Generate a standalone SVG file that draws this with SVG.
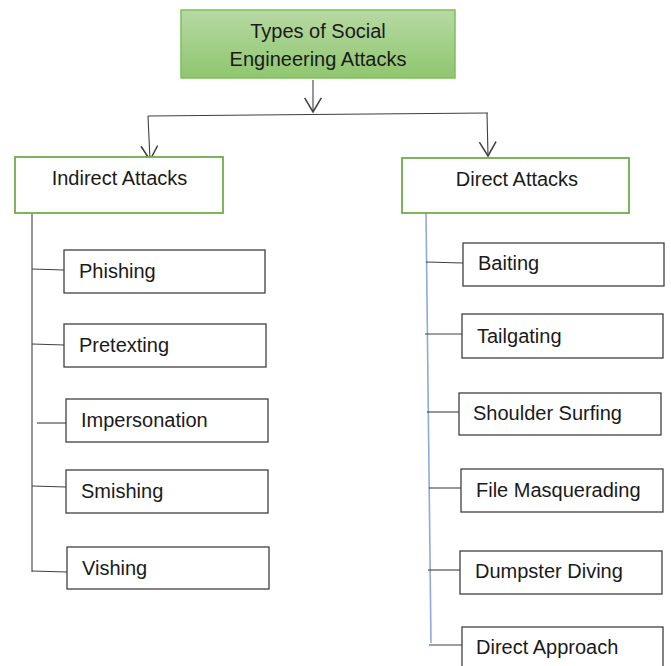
<svg xmlns="http://www.w3.org/2000/svg" width="671" height="666" viewBox="0 0 671 666">
<defs>
<linearGradient id="g" x1="0" y1="0" x2="0" y2="1">
<stop offset="0" stop-color="#b7d9a3"/>
<stop offset="1" stop-color="#8fc66f"/>
</linearGradient>
<marker id="arr" markerUnits="userSpaceOnUse" markerWidth="18" markerHeight="18" refX="12" refY="7" orient="auto" viewBox="0 0 14 14">
<path d="M1,0.5 L12,7 L1,13.5" fill="none" stroke="#404040" stroke-width="1.2"/>
</marker>
<style>
text{font-family:"Liberation Sans",Arial,sans-serif;font-size:20px;fill:#1a1a1a}
.box{fill:#fff;stroke:#404040;stroke-width:1.3}
.gbox{fill:#fff;stroke:#70ad47;stroke-width:1.8}
.c{stroke:#404040;stroke-width:1.1;fill:none}
.b{stroke:#8eaadb;stroke-width:1.6;fill:none}
.m{text-anchor:middle}
</style>
</defs>
<g id="connectors">
<line class="c" x1="313" y1="80" x2="313" y2="112" marker-end="url(#arr)"/>
<line class="c" x1="148" y1="116" x2="488" y2="113"/>
<line class="c" x1="148" y1="116" x2="150" y2="160" marker-end="url(#arr)"/>
<line class="c" x1="487" y1="113" x2="488" y2="156" marker-end="url(#arr)"/>
<line class="c" x1="32" y1="214" x2="32" y2="572"/>
<line class="c" x1="32" y1="269" x2="64" y2="270"/>
<line class="c" x1="32" y1="344" x2="64" y2="345"/>
<line class="c" x1="37" y1="423" x2="66" y2="423"/>
<line class="c" x1="32" y1="486" x2="66" y2="487"/>
<line class="c" x1="32" y1="571" x2="67" y2="572"/>
<line class="b" x1="426" y1="213" x2="431" y2="643"/>
<line class="c" x1="426" y1="262" x2="463" y2="263"/>
<line class="c" x1="425" y1="334" x2="462" y2="334"/>
<line class="c" x1="427" y1="412" x2="459" y2="412"/>
<line class="c" x1="429" y1="488" x2="461" y2="488"/>
<line class="c" x1="428" y1="570" x2="460" y2="570"/>
<line class="c" x1="429" y1="645" x2="462" y2="645"/>
</g>
<g id="root">
<rect x="181" y="10" width="274" height="68" fill="url(#g)" stroke="#7fbf5a" stroke-width="1.5"/>
<text class="m" x="318" y="38">Types of Social</text>
<text class="m" x="318" y="66">Engineering Attacks</text>
</g>
<g id="indirect">
<rect class="gbox" x="15" y="157" width="208" height="56"/>
<text class="m" x="119.5" y="185">Indirect Attacks</text>
</g>
<g id="direct">
<rect class="gbox" x="402" y="158" width="227" height="55"/>
<text class="m" x="517" y="186">Direct Attacks</text>
</g>
<g id="phishing"><rect class="box" x="64" y="250" width="201" height="43"/><text x="79" y="278">Phishing</text></g>
<g id="pretexting"><rect class="box" x="64" y="324" width="202" height="43"/><text x="79" y="352">Pretexting</text></g>
<g id="impersonation"><rect class="box" x="66" y="399" width="202" height="43"/><text x="81" y="427">Impersonation</text></g>
<g id="smishing"><rect class="box" x="66" y="470" width="202" height="43"/><text x="81" y="498">Smishing</text></g>
<g id="vishing"><rect class="box" x="67" y="547" width="202" height="42"/><text x="82" y="575">Vishing</text></g>
<g id="baiting"><rect class="box" x="463" y="243" width="201" height="43"/><text x="478" y="270">Baiting</text></g>
<g id="tailgating"><rect class="box" x="462" y="314" width="201" height="44"/><text x="477" y="343">Tailgating</text></g>
<g id="shoulder"><rect class="box" x="459" y="393" width="202" height="42"/><text x="473" y="420">Shoulder Surfing</text></g>
<g id="file"><rect class="box" x="461" y="469" width="202" height="43"/><text x="476" y="497">File Masquerading</text></g>
<g id="dumpster"><rect class="box" x="460" y="551" width="202" height="43"/><text x="475" y="578">Dumpster Diving</text></g>
<g id="approach"><rect class="box" x="462" y="627" width="201" height="45"/><text x="476" y="654">Direct Approach</text></g>
</svg>
